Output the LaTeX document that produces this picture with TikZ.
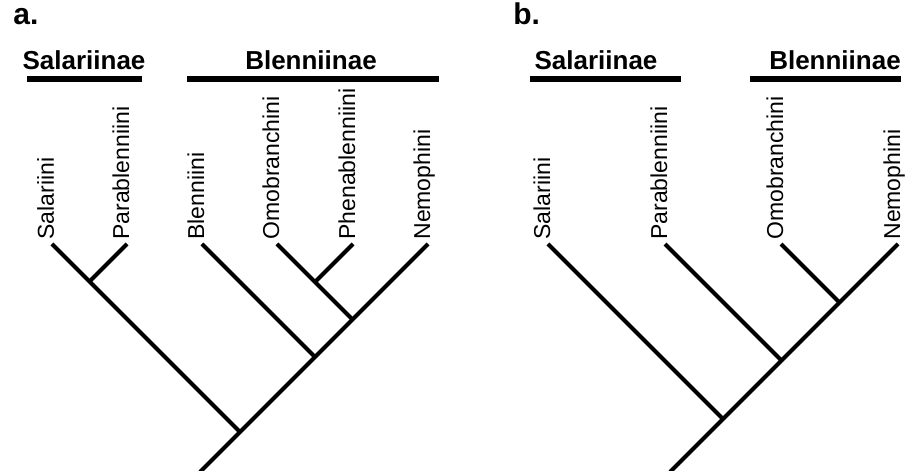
\documentclass[tikz,border=0pt]{standalone}
\usepackage{fontspec}
\setmainfont{Liberation Sans}
\usepackage{tikz}

\tikzset{
  branch/.style={line width=2pt},
  cladebar/.style={line width=2.6pt},
  leaf/.style={rotate=90, anchor=base west, inner sep=0pt, font=\fontsize{11.5}{14}\selectfont},
  clade/.style={anchor=base, inner sep=0pt, font=\bfseries\fontsize{13}{16}\selectfont},
  panel/.style={anchor=base west, inner sep=0pt, font=\bfseries\fontsize{15}{18}\selectfont}
}

\begin{document}
\begin{tikzpicture}[x=.5pt,y=.5pt]
\useasboundingbox (0,0) rectangle (906,471);

% panel a
\node (pa) [panel] at (13,446) {a.};
\node (salinA) [clade] at (84,401) {Salariinae};
\node (bleninA) [clade] at (311,401) {Blenniinae};
\coordinate (barSa1) at (27,392);
\coordinate (barSa2) at (142,392);
\coordinate (barBa1) at (187,392);
\coordinate (barBa2) at (439,392);
\draw[cladebar] (barSa1) to (barSa2);
\draw[cladebar] (barBa1) to (barBa2);

\coordinate (tSalA) at (52,227);
\coordinate (tParA) at (127,227);
\coordinate (tBleA) at (202,227);
\coordinate (tOmoA) at (277,227);
\coordinate (tPheA) at (353,227);
\coordinate (tNemA) at (428,227);
\coordinate (jSP) at (89.5,189.5);
\coordinate (jOP) at (315,189);
\coordinate (jON) at (352.5,151.5);
\coordinate (jBN) at (315,114);
\coordinate (rootA) at (240,39);
\coordinate (baseA) at (200,-1);

\node (lSalA) [leaf] at (54,231) {Salariini};
\node (lParA) [leaf] at (129,231) {Parablenniini};
\node (lBleA) [leaf] at (204,231) {Blenniini};
\node (lOmoA) [leaf] at (279,231) {Omobranchini};
\node (lPheA) [leaf] at (355,231) {Phenablenniini};
\node (lNemA) [leaf] at (430,231) {Nemophini};

\draw[branch] (tSalA) to (jSP) to (rootA);
\draw[branch] (tParA) to (jSP);
\draw[branch] (tBleA) to (jBN);
\draw[branch] (tOmoA) to (jOP) to (jON);
\draw[branch] (tPheA) to (jOP);
\draw[branch] (tNemA) to (jON) to (jBN) to (rootA) to (baseA);

% panel b
\node (pb) [panel] at (513,446) {b.};
\node (salinB) [clade] at (596,401) {Salariinae};
\node (bleninB) [clade] at (835,401) {Blenniinae};
\coordinate (barSb1) at (530,392);
\coordinate (barSb2) at (681,392);
\coordinate (barBb1) at (750,392);
\coordinate (barBb2) at (901,392);
\draw[cladebar] (barSb1) to (barSb2);
\draw[cladebar] (barBb1) to (barBb2);

\coordinate (tSalB) at (548,227);
\coordinate (tParB) at (665,227);
\coordinate (tOmoB) at (781,227);
\coordinate (tNemB) at (898,227);
\coordinate (kON) at (839.5,168.5);
\coordinate (kPN) at (781.5,110.5);
\coordinate (rootB) at (723,52);
\coordinate (baseB) at (670,-1);

\node (lSalB) [leaf] at (550,231) {Salariini};
\node (lParB) [leaf] at (667,231) {Parablenniini};
\node (lOmoB) [leaf] at (783,231) {Omobranchini};
\node (lNemB) [leaf] at (900,231) {Nemophini};

\draw[branch] (tSalB) to (rootB);
\draw[branch] (tParB) to (kPN);
\draw[branch] (tOmoB) to (kON);
\draw[branch] (tNemB) to (kON) to (kPN) to (rootB) to (baseB);
\end{tikzpicture}
\end{document}
